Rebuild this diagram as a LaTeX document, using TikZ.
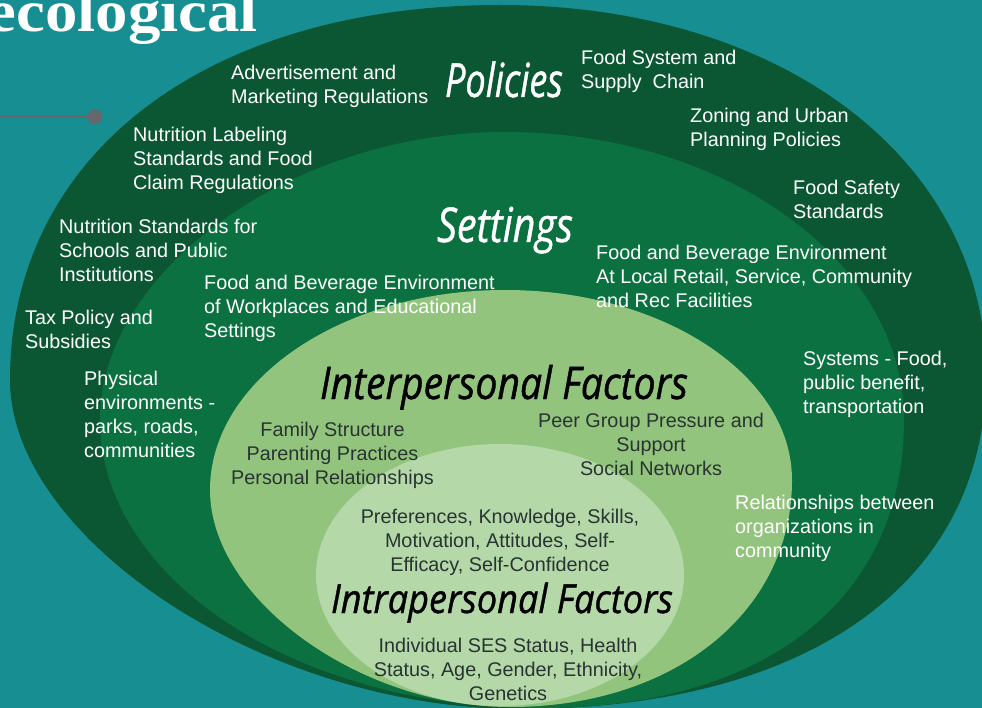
\documentclass[tikz,border=0pt]{standalone}
\usepackage{fontspec}
\usepackage{graphicx}
\usepackage{tikz}
\newfontfamily\labelfont{Liberation Sans}
\newfontfamily\headfont{Liberation Serif}
\newfontfamily\ringfont{Open Sans}[ItalicFeatures={FakeBold=1}]

\definecolor{seateal}{RGB}{23,143,146}
\definecolor{policygreen}{RGB}{11,87,51}
\definecolor{settinggreen}{RGB}{12,113,64}
\definecolor{intergreen}{RGB}{147,196,125}
\definecolor{intragreen}{RGB}{181,216,168}
\definecolor{factorgray}{RGB}{40,52,50}
\definecolor{linegray}{RGB}{100,104,108}

% squeeze a text to the width it has in the picture
\newcommand{\ringtitle}[2]{\resizebox{#1}{\height}{#2}}

\tikzset{
  ringtext/.style={text=white, align=left, anchor=north west, inner sep=0pt,
    font=\labelfont\fontsize{19.8}{24}\selectfont},
  factortext/.style={text=factorgray, align=center, anchor=north, inner sep=0pt,
    font=\labelfont\fontsize{19.8}{24}\selectfont},
  ringname/.style={anchor=base, inner sep=0pt,
    font=\ringfont\itshape\fontsize{#1}{50}\selectfont}
}

\begin{document}
\begin{tikzpicture}[x=1pt,y=-1pt]

% Fix the frame and the background
\useasboundingbox (0,0) rectangle (982,708);
\fill[seateal] (0,0) rectangle (982,708);
\clip (0,0) rectangle (982,708);

% Define the extreme points of the rings
\coordinate (Ptop) at (500,5);
\coordinate (Pright) at (986,375);
\coordinate (Pbottom) at (520,709);
\coordinate (Pleft) at (10,380);
\coordinate (Stop) at (505,132);
\coordinate (Sright) at (904,420);
\coordinate (Sbottom) at (540,708);
\coordinate (Sleft) at (100,420);
\coordinate (Itop) at (505,290);
\coordinate (Iright) at (792,480);
\coordinate (Ibottom) at (510,707);
\coordinate (Ileft) at (210,490);
\coordinate (Cintra) at (500,575);

% Draw the nested rings (egg shaped, all meeting at the bottom)
\fill[policygreen] (Ptop) .. controls +(282,0) and +(0,-215) .. (Pright)
  .. controls +(0,207) and +(289,0) .. (Pbottom)
  .. controls +(-255,0) and +(0,158) .. (Pleft)
  .. controls +(0,-225) and +(-294,0) .. (Ptop) -- cycle;
\fill[settinggreen] (Stop) .. controls +(220,0) and +(0,-159) .. (Sright)
  .. controls +(0,179) and +(226,0) .. (Sbottom)
  .. controls +(-243,0) and +(0,159) .. (Sleft)
  .. controls +(0,-150) and +(-211,0) .. (Stop) -- cycle;
\fill[intergreen] (Itop) .. controls +(158,0) and +(0,-105) .. (Iright)
  .. controls +(0,132) and +(164,0) .. (Ibottom)
  .. controls +(-150,0) and +(0,109) .. (Ileft)
  .. controls +(0,-110) and +(-163,0) .. (Itop) -- cycle;
\fill[intragreen] (Cintra) ellipse (184pt and 131pt);

% Heading and pointer at the top left
\node[anchor=base east, inner sep=0pt, text=white, font=\headfont\bfseries\fontsize{59}{60}\selectfont] (heading) at (258,32) {\ringtitle{270pt}{ecological}};
\coordinate (pointerend) at (0,117);
\node[circle, fill=linegray, minimum size=15pt, inner sep=0pt] (pointerdot) at (95,117) {};
\draw[linegray, line width=3pt] (pointerend) -- (pointerdot);

% Ring titles
\node[ringname=47, text=white] (policies) at (504,97) {\ringtitle{118pt}{Policies}};
\node[ringname=48, text=white] (settings) at (505,242) {\ringtitle{136pt}{Settings}};
\node[ringname=45, text=black] (interpersonal) at (504,399) {\ringtitle{368pt}{Interpersonal Factors}};
\node[ringname=40, text=black] (intrapersonal) at (502,613) {\ringtitle{342pt}{Intrapersonal Factors}};

% Policies
\node[ringtext] (advert) at (231,64.5) {Advertisement and\\Marketing Regulations};
\node[ringtext] (foodsystem) at (581,50) {Food System and\\Supply\ \ Chain};
\node[ringtext] (zoning) at (690,108) {Zoning and Urban\\Planning Policies};
\node[ringtext] (labeling) at (133,127) {Nutrition Labeling\\Standards and Food\\Claim Regulations};
\node[ringtext] (safety) at (793,180) {Food Safety\\Standards};
\node[ringtext] (schools) at (59,219) {Nutrition Standards for\\Schools and Public\\Institutions};
\node[ringtext] (tax) at (25,310) {Tax Policy and\\Subsidies};
\node[ringtext] (systems) at (803,351) {Systems - Food,\\public benefit,\\transportation};
\node[ringtext] (relations) at (735,495) {Relationships between\\organizations in\\community};

% Settings
\node[ringtext] (localretail) at (596,245) {Food and Beverage Environment\\At Local Retail, Service, Community\\and Rec Facilities};
\node[ringtext] (workplace) at (204,275) {Food and Beverage Environment\\of Workplaces and Educational\\Settings};
\node[ringtext] (physical) at (84,371) {Physical\\environments -\\parks, roads,\\communities};

% Interpersonal and intrapersonal factors
\node[factortext] (family) at (332.5,422) {Family Structure\\Parenting Practices\\Personal Relationships};
\node[factortext] (peer) at (651,413) {Peer Group Pressure and\\Support\\Social Networks};
\node[factortext] (preferences) at (500,509) {Preferences, Knowledge, Skills,\\Motivation, Attitudes, Self-\\Efficacy, Self-Confidence};
\node[factortext] (individual) at (508,638) {Individual SES Status, Health\\Status, Age, Gender, Ethnicity,\\Genetics};

\end{tikzpicture}
\end{document}
